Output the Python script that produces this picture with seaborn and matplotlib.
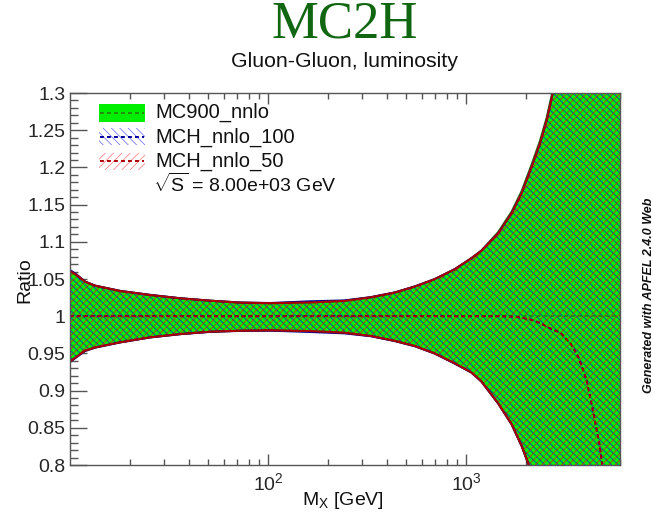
import matplotlib
matplotlib.use("Agg")
import matplotlib.pyplot as plt
import numpy as np
import pandas as pd
import seaborn as sns
from matplotlib.patches import Rectangle
from matplotlib.lines import Line2D
from matplotlib.ticker import FixedLocator, LogFormatterSciNotation, NullFormatter, MultipleLocator, FuncFormatter

# ---- luminosity ratios vs invariant mass (GeV) ----
mass = [10, 10.8, 11.9, 13.4, 17.9, 25.4, 36.1, 51.3, 72.8, 103, 164, 243, 331,
        435, 550, 694, 877, 1065, 1196, 1454, 1700, 1910, 2147, 2367, 2559, 2732,
        3000, 3400, 3700, 4060, 4390, 4740, 5200, 6000]

mc900_up = [1.0605, 1.0554, 1.0464, 1.0410, 1.0339, 1.0285, 1.0240, 1.0208, 1.0182,
            1.0175, 1.0185, 1.0205, 1.0254, 1.0316, 1.0397, 1.0496, 1.0630, 1.0778,
            1.0880, 1.1130, 1.1405, 1.1680, 1.2040, 1.2360, 1.2670, 1.3010, 1.365,
            1.465, 1.555, 1.675, 1.795, 1.945, 2.155, 2.605]
mc900_lo = [0.9390, 0.9456, 0.9536, 0.9580, 0.9649, 0.9716, 0.9760, 0.9792, 0.9805,
            0.9810, 0.9800, 0.9778, 0.9734, 0.9670, 0.9600, 0.9501, 0.9367, 0.9245,
            0.9125, 0.8830, 0.8550, 0.8260, 0.7900, 0.7510, 0.7140, 0.6790, 0.619,
            0.539, 0.469, 0.389, 0.309, 0.219, 0.109, 0.000]
mc900_c = [1.0] * len(mass)

mch100_up = [1.0620, 1.0560, 1.0466, 1.0410, 1.0340, 1.0286, 1.0241, 1.0208, 1.0183,
             1.0177, 1.0200, 1.0212, 1.0256, 1.0318, 1.0399, 1.0498, 1.0632, 1.0779,
             1.0880, 1.1115, 1.1385, 1.1655, 1.2012, 1.2326, 1.2639, 1.2975, 1.360,
             1.460, 1.550, 1.670, 1.790, 1.940, 2.150, 2.600]
mch100_lo = [0.9386, 0.9450, 0.9532, 0.9578, 0.9648, 0.9715, 0.9759, 0.9790, 0.9803,
             0.9806, 0.9788, 0.9770, 0.9731, 0.9667, 0.9598, 0.9499, 0.9364, 0.9243,
             0.9123, 0.8828, 0.8548, 0.8258, 0.7898, 0.7508, 0.7138, 0.6788, 0.618,
             0.538, 0.468, 0.388, 0.308, 0.218, 0.108, 0.000]
mch100_c = [1.0, 1.0, 1.0, 1.0, 1.0, 1.0, 1.0, 1.0, 1.0, 1.0, 1.0, 1.0, 1.0, 1.0,
            1.0, 1.0, 1.0, 1.0, 1.0, 1.0, 0.9995, 0.998, 0.995, 0.991, 0.986, 0.982,
            0.978, 0.962, 0.945, 0.915, 0.872, 0.826, 0.740, 0.550]

mch50_up = [1.0605, 1.0554, 1.0464, 1.0410, 1.0339, 1.0285, 1.0240, 1.0208, 1.0182,
            1.0175, 1.0185, 1.0205, 1.0254, 1.0316, 1.0397, 1.0496, 1.0630, 1.0778,
            1.0878, 1.1114, 1.1383, 1.1652, 1.2010, 1.2324, 1.2637, 1.2973, 1.360,
            1.460, 1.550, 1.670, 1.790, 1.940, 2.150, 2.600]
mch50_lo = [0.9390, 0.9456, 0.9536, 0.9580, 0.9649, 0.9716, 0.9760, 0.9792, 0.9805,
            0.9810, 0.9800, 0.9778, 0.9734, 0.9670, 0.9600, 0.9501, 0.9367, 0.9245,
            0.9125, 0.8830, 0.8550, 0.8260, 0.7900, 0.7510, 0.7140, 0.6790, 0.619,
            0.539, 0.469, 0.389, 0.309, 0.219, 0.109, 0.000]
mch50_c = [1.0, 1.0, 1.0, 1.0, 1.0, 1.0, 1.0, 1.0, 1.0, 1.0, 1.0, 1.0, 1.0, 1.0,
           1.0, 1.0, 1.0, 1.0, 1.0, 1.0, 0.9995, 0.998, 0.995, 0.991, 0.986, 0.982,
           0.978, 0.962, 0.945, 0.915, 0.872, 0.826, 0.740, 0.550]

labels = ["MC900_nnlo", "MCH_nnlo_100", "MCH_nnlo_50"]
x_major = [100, 1000]
x_minor = [20, 30, 40, 50, 60, 70, 80, 90, 200, 300, 400, 500, 600, 700, 800, 900,
           2000, 3000, 4000, 5000, 6000]

sns.set_theme(style="ticks")
plt.rcParams["font.family"] = ["Liberation Sans", "DejaVu Sans"]
plt.rcParams["mathtext.fontset"] = "custom"
plt.rcParams["mathtext.rm"] = "Liberation Sans"
plt.rcParams["mathtext.it"] = "Liberation Sans:italic"
plt.rcParams["mathtext.bf"] = "Liberation Sans:bold"
plt.rcParams["hatch.linewidth"] = 0.45

W, H = 653, 513
fig = plt.figure(figsize=(W / 100, H / 100), dpi=100)
fig.patch.set_facecolor("white")
ax = fig.add_axes([70 / W, 1 - 465 / H, 550 / W, 372 / H])
ax.set_facecolor("white")
ax.set_xscale("log")

green_fill = "#00ee00"
green_dark = "#1f8a10"
blue_edge = "#000099"
red_edge = "#aa0000"

# bands: solid green reference, cross-hatched comparisons on top
ax.fill_between(mass, mc900_lo, mc900_up, facecolor=green_fill, edgecolor="none", lw=0, zorder=1)
ax.fill_between(mass, mch100_lo, mch100_up, facecolor="none", edgecolor="#0000ff",
                hatch="\\\\\\\\\\", lw=0, zorder=2)
ax.fill_between(mass, mch50_lo, mch50_up, facecolor="none", edgecolor="#ff0000",
                hatch="/////", lw=0, zorder=3)

# band edges and central values
series = [
    (mc900_up, mc900_lo, mc900_c, green_dark),
    (mch100_up, mch100_lo, mch100_c, blue_edge),
    (mch50_up, mch50_lo, mch50_c, red_edge),
]
for k, (up, lo, c, col) in enumerate(series):
    z = 4 + k
    for edge in (up, lo):
        sns.lineplot(x=mass, y=edge, ax=ax, color=col, lw=1.5, sort=False,
                     estimator=None, zorder=z)
    sns.lineplot(x=mass, y=c, ax=ax, color=col, lw=1.3, sort=False,
                 estimator=None, zorder=z + 0.5)
    ax.lines[-1].set_dashes((2.2, 1.6))

ax.set_xlim(10, 6000)
ax.set_ylim(0.8, 1.3)

spine_col = "#555555"
for sp in ax.spines.values():
    sp.set_color(spine_col)
    sp.set_linewidth(1.0)
    sp.set_zorder(10)

ax.xaxis.set_major_locator(FixedLocator(x_major))
ax.xaxis.set_minor_locator(FixedLocator(x_minor))
ax.xaxis.set_major_formatter(LogFormatterSciNotation())
ax.xaxis.set_minor_formatter(NullFormatter())
ax.yaxis.set_major_locator(MultipleLocator(0.05))
ax.yaxis.set_minor_locator(MultipleLocator(0.01))
ax.yaxis.set_major_formatter(FuncFormatter(lambda v, p: f"{v:g}"))

ax.tick_params(axis="x", which="major", direction="in", length=8, width=1,
               color=spine_col, top=True, bottom=True, labelsize=14, pad=5)
ax.tick_params(axis="x", which="minor", direction="in", length=4.5, width=1,
               color=spine_col, top=True, bottom=True)
ax.tick_params(axis="y", which="major", direction="in", length=12, width=1,
               color=spine_col, left=True, right=False, labelsize=14, pad=3.5)
ax.tick_params(axis="y", which="minor", direction="in", length=5.5, width=1,
               color=spine_col, left=True, right=False)
ax.set_xlabel("")
ax.set_ylabel("")

# titles and axis titles
fig.text(345 / W, 1 - 38 / H, "MC2H", family="Liberation Serif", size=38,
         color="#116611", ha="center", va="baseline")
fig.text(344 / W, 1 - 66.7 / H, "Gluon-Gluon, luminosity", size=15.3,
         color="#111111", ha="center", va="baseline")
fig.text(29 / W, 1 - 280 / H, "Ratio", size=14, rotation=90, rotation_mode="anchor",
         ha="center", va="baseline", color="#111111")
fig.text(343 / W, 1 - 505 / H, r"M$_{\mathrm{X}}$ [GeV]", size=14,
         ha="center", va="baseline", color="#111111")
fig.text(651.5 / W, 1 - 295 / H, "Generated with APFEL 2.4.0 Web", size=9,
         weight="bold", style="italic", rotation=90, rotation_mode="anchor",
         ha="center", va="baseline", color="#111111")

# legend
def fx(px):
    return px / W

def fy(py):
    return 1 - py / H

entries = [
    (104, 122, green_fill, None, "none", green_dark),
    (128, 145, "white", "\\\\\\\\", "#5555ff", blue_edge),
    (152.7, 170, "white", "////", "#ff6666", red_edge),
]
baselines = [118, 143, 167]
for (y0, y1, fc, hatch, hc, lc), bl, lab in zip(entries, baselines, labels):
    rect = Rectangle((fx(99), fy(y1)), fx(145) - fx(99), fy(y0) - fy(y1),
                     transform=fig.transFigure, facecolor=fc,
                     edgecolor=hc if hatch else "none", hatch=hatch, lw=0)
    fig.add_artist(rect)
    ym = fy((y0 + y1) / 2)
    ln = Line2D([fx(100), fx(144)], [ym, ym], transform=fig.transFigure,
                color=lc, lw=1.4, dashes=(2.0, 1.6))
    fig.add_artist(ln)
    fig.text(fx(155), fy(bl), lab, size=14.5, ha="left", va="baseline", color="#111111")

fig.text(fx(153), fy(191.5), r"$\sqrt{\mathrm{S}}$ = 8.00e+03 GeV", size=14,
         ha="left", va="baseline", color="#111111")

fig.savefig("out.png", dpi=100, facecolor="white")
